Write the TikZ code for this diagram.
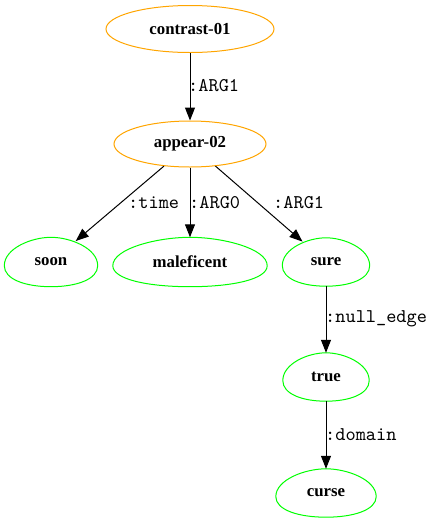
\documentclass[tikz,border=0pt]{standalone}
\usepackage{fontspec}
\setmainfont{Liberation Serif}
\setmonofont{lmmono10-regular.otf}
\usetikzlibrary{arrows.meta,calc,shapes.geometric}
\definecolor{gvorange}{HTML}{FFA500}
\definecolor{gvgreen}{HTML}{00FF00}
\begin{document}
\begin{tikzpicture}[x=1pt,y=-1pt,
  concept/.style={ellipse, inner sep=0pt, font=\fontsize{16.8}{20}\selectfont\bfseries},
  topnode/.style={concept, draw=gvorange, line width=1pt},
  leafnode/.style={concept, draw=none},
  eggline/.style={draw=gvgreen, line width=1pt},
  edgeline/.style={line width=1pt, -{Triangle[length=13pt,width=10pt]}},
  lbl/.style={anchor=west, inner sep=0pt, font=\fontsize{19.4}{22}\selectfont\ttfamily}]
\useasboundingbox (0,0) rectangle (442,523);

\node[topnode, minimum width=168pt, minimum height=47pt] (contrast) at (190,29) {contrast-01};
\node[topnode, minimum width=152pt, minimum height=46pt] (appear) at (190,144) {appear-02};
\node[leafnode, minimum width=93pt, minimum height=49pt] (soon) at (51,262) {soon};
\node[leafnode, minimum width=154pt, minimum height=49pt] (malef) at (190,262) {maleficent};
\node[leafnode, minimum width=87pt, minimum height=48pt] (sure) at (326,262) {sure};
\node[leafnode, minimum width=86pt, minimum height=48pt] (true) at (326,377) {true};
\node[leafnode, minimum width=100pt, minimum height=48pt] (curse) at (326,493) {curse};

% egg outlines
\foreach \n in {soon,malef,sure,true,curse}
  \draw[eggline] (\n.south)
    .. controls ($(\n.south)!0.55!(\n.west |- \n.south)$) and ($(\n.west)!0.7!(\n.west |- \n.south)$) .. ($(\n.west)!0.15!(\n.west |- \n.south)$)
    .. controls ($(\n.west)!0.55!(\n.west |- \n.north)$) and ($(\n.north)!0.42!(\n.west |- \n.north)$) .. (\n.north)
    .. controls ($(\n.north)!0.42!(\n.east |- \n.north)$) and ($(\n.east)!0.55!(\n.east |- \n.north)$) .. ($(\n.east)!0.15!(\n.east |- \n.south)$)
    .. controls ($(\n.east)!0.7!(\n.east |- \n.south)$) and ($(\n.south)!0.55!(\n.east |- \n.south)$) .. (\n.south);

\draw[edgeline] (contrast) -- (appear);
\draw[edgeline] (appear) -- (soon);
\draw[edgeline] (appear) -- (malef);
\draw[edgeline] (appear) -- (sure);
\draw[edgeline] (sure) -- (true);
\draw[edgeline] (true) -- (curse);

\node[lbl] (arg1a) at (188,86) {:ARG1};
\node[lbl] (time) at (128,203) {:time};
\node[lbl] (arg0) at (189,203) {:ARG0};
\node[lbl] (arg1b) at (273,203) {:ARG1};
\node[lbl] (null) at (325,319) {:null\_edge};
\node[lbl] (domain) at (325,435) {:domain};
\end{tikzpicture}
\end{document}
